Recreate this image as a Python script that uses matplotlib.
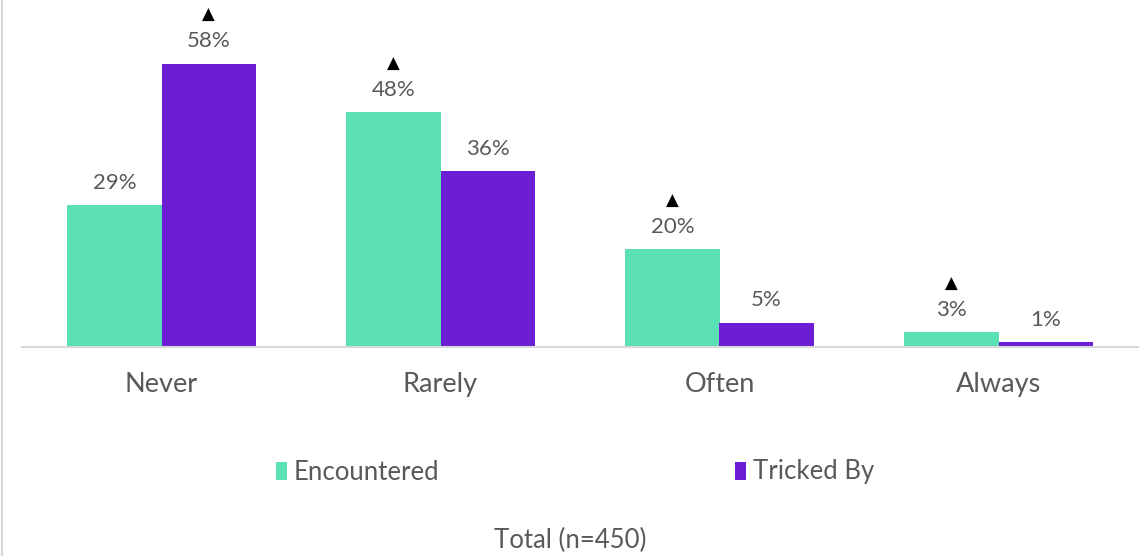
import numpy as np
import matplotlib.pyplot as plt
from matplotlib.lines import Line2D

plt.rcParams['font.family'] = ['Lato', 'DejaVu Sans']

categories = ["Never", "Rarely", "Often", "Always"]
encountered = [29, 48, 20, 3]
tricked = [58, 36, 5, 1]
# which bars carry a significance triangle
enc_flag = [False, True, True, True]
trk_flag = [True, False, False, False]

green = "#5BDFB4"
purple = "#6B1ED4"
grey_txt = "#595959"

fig = plt.figure(figsize=(11.42, 5.56), dpi=100)
ax = fig.add_axes([22 / 1142, 209 / 556, 1116 / 1142, 347 / 556])

x = np.arange(len(categories))
w = 0.337
b1 = ax.bar(x - w / 2, encountered, w, color=green, label="Encountered")
b2 = ax.bar(x + w / 2, tricked, w, color=purple, label="Tricked By")

for bars, vals, flags in [(b1, encountered, enc_flag), (b2, tricked, trk_flag)]:
    for bar, v, f in zip(bars, vals, flags):
        cx = bar.get_x() + bar.get_width() / 2
        ax.annotate(f"{v}%", (cx, v), xytext=(0, 16), textcoords="offset points",
                    ha="center", va="center", fontsize=16, color=grey_txt)
        if f:
            ax.annotate("▲", (cx, v), xytext=(0, 35), textcoords="offset points",
                        ha="center", va="center", fontsize=12, color="black",
                        family="DejaVu Sans")

ax.set_xlim(-0.5, 3.5)
ax.set_ylim(0, 71)
ax.set_xticks(x)
ax.set_xticklabels(categories, fontsize=19.5, color=grey_txt)
ax.tick_params(axis="x", length=0, pad=18)
ax.set_yticks([])
for s in ["top", "right", "left"]:
    ax.spines[s].set_visible(False)
ax.spines["bottom"].set_color("#d9d9d9")
ax.spines["bottom"].set_linewidth(1.5)

leg = fig.legend(handles=[b1, b2], loc="center", bbox_to_anchor=(575 / 1142, 1 - 472 / 556),
                 ncol=2, frameon=False, fontsize=18.5, handlelength=0.45, handleheight=0.7,
                 handletextpad=0.25, columnspacing=11.5)
for t in leg.get_texts():
    t.set_color(grey_txt)

fig.text(570 / 1142, 1 - 540 / 556, "Total (n=450)", ha="center", va="center",
         fontsize=18.5, color=grey_txt)

fig.add_artist(Line2D([1.5 / 1142, 1.5 / 1142], [0, 1], color="#d9d9d9", lw=1.5,
                      transform=fig.transFigure))

fig.savefig("out.png", dpi=100)
